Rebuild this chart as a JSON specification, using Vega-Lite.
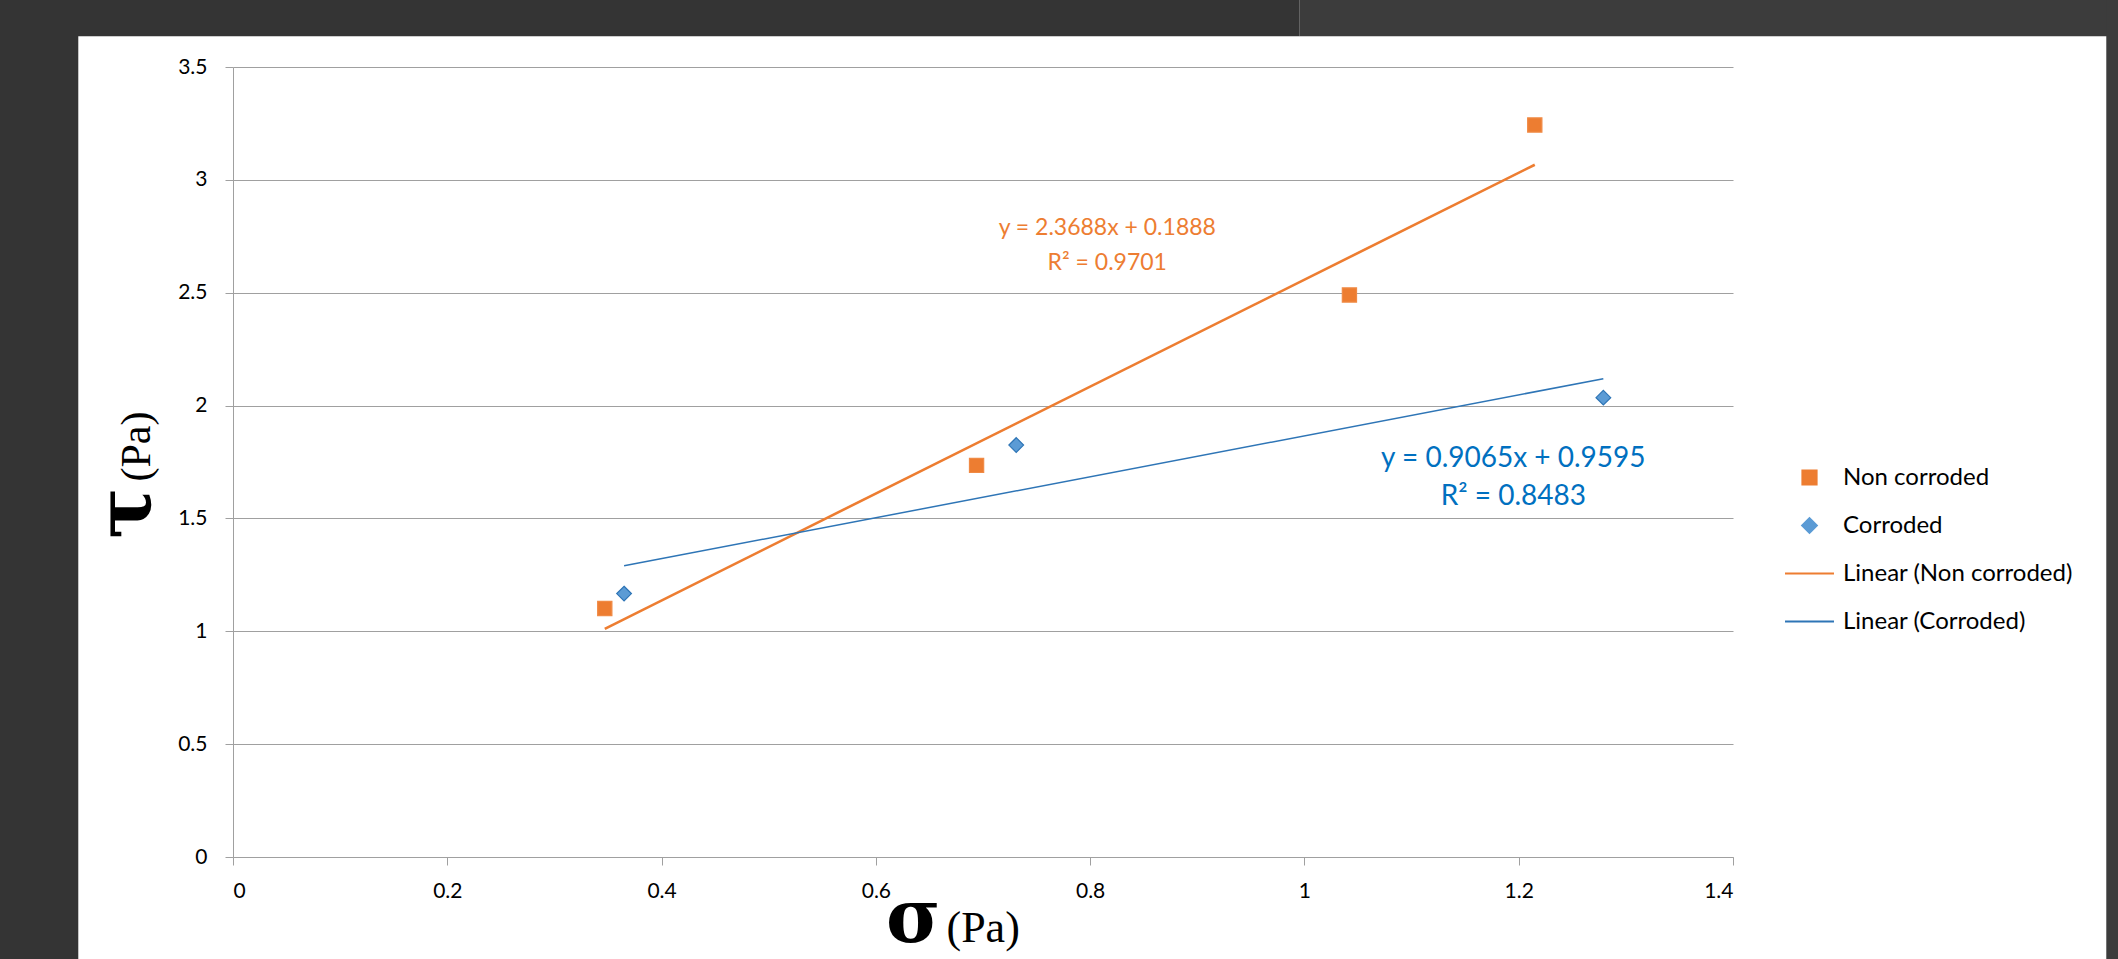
{
  "$schema": "https://vega.github.io/schema/vega-lite/v6.json",
  "width": 1500,
  "height": 790,
  "autosize": "none",
  "padding": {"left": 233, "top": 67, "right": 385, "bottom": 102},
  "background": "#ffffff",
  "config": {
    "view": {"stroke": null},
    "font": "Lato",
    "axis": {
      "labelFont": "Lato",
      "labelFontSize": 21,
      "labelColor": "#000000",
      "domainColor": "#a0a0a0",
      "tickColor": "#a0a0a0",
      "gridColor": "#a0a0a0",
      "gridWidth": 1,
      "domainWidth": 1,
      "tickWidth": 1,
      "tickSize": 8,
      "titleColor": "#000000"
    },
    "legend": {
      "orient": "none",
      "legendX": 1551,
      "legendY": 385,
      "padding": 0,
      "rowPadding": 10,
      "labelFont": "Lato",
      "labelFontSize": 24,
      "labelColor": "#000000",
      "labelLimit": 500,
      "labelOffset": 8,
      "symbolSize": 2400,
      "symbolStrokeWidth": 2,
      "symbolOpacity": 1
    }
  },
  "resolve": {"axis": {"x": "independent", "y": "independent"}},
  "layer": [
    {
      "layer": [
        {
          "data": {"values": [{}]},
          "mark": {"type": "rect", "color": "#343434"},
          "encoding": {
            "x": {
              "datum": -0.5, "type": "quantitative",
              "scale": {"domain": [0, 1.4], "nice": false, "zero": false},
              "axis": {
                "orient": "bottom", "title": "σ", "labels": false, "ticks": false, "domain": false, "grid": false,
                "titleFont": "DejaVu Serif", "titleFontWeight": "bold", "titleFontSize": 74,
                "titleAlign": "right", "titleAnchor": null, "titleX": 707, "titleY": 84, "titleBaseline": "alphabetic"
              }
            },
            "x2": {"datum": -0.1444},
            "y": {
              "datum": -0.6, "type": "quantitative",
              "scale": {"domain": [0, 3.5], "nice": false, "zero": false},
              "axis": {
                "orient": "left", "title": "τ", "labels": false, "ticks": false, "domain": false, "grid": false,
                "titleFont": "DejaVu Serif", "titleFontWeight": "bold", "titleFontSize": 76,
                "titleAngle": -90, "titleAlign": "right", "titleAnchor": null, "titleX": -84, "titleY": 420, "titleBaseline": "alphabetic"
              }
            },
            "y2": {"datum": 4.0}
          }
        },
        {
          "data": {"values": [{}]},
          "mark": {"type": "rect", "color": "#343434"},
          "encoding": {
            "x": {"datum": -0.5, "type": "quantitative"},
            "x2": {"datum": 0.9952},
            "y": {"datum": 3.636, "type": "quantitative"},
            "y2": {"datum": 4.0}
          }
        },
        {
          "data": {"values": [{}]},
          "mark": {"type": "rect", "color": "#3c3c3c"},
          "encoding": {
            "x": {"datum": 0.9952, "type": "quantitative"},
            "x2": {"datum": 2.0},
            "y": {"datum": 3.636, "type": "quantitative"},
            "y2": {"datum": 4.0}
          }
        },
        {
          "data": {"values": [{}]},
          "mark": {"type": "rect", "color": "#3c3c3c"},
          "encoding": {
            "x": {"datum": 1.7484, "type": "quantitative"},
            "x2": {"datum": 2.0},
            "y": {"datum": -0.6, "type": "quantitative"},
            "y2": {"datum": 4.0}
          }
        }
      ]
    },
    {
      "layer": [
        {
          "data": {"values": [
            {"series": "Linear (Non corroded)", "sigma": 0.347, "tau": 1.011},
            {"series": "Linear (Non corroded)", "sigma": 1.215, "tau": 3.067}
          ]},
          "mark": {"type": "line", "strokeWidth": 2.6},
          "encoding": {
            "x": {"field": "sigma", "type": "quantitative"},
            "y": {"field": "tau", "type": "quantitative"},
            "color": {"field": "series", "type": "nominal"}
          }
        },
        {
          "data": {"values": [
            {"series": "Linear (Corroded)", "sigma": 0.365, "tau": 1.290},
            {"series": "Linear (Corroded)", "sigma": 1.279, "tau": 2.119}
          ]},
          "mark": {"type": "line", "strokeWidth": 1.5},
          "encoding": {
            "x": {"field": "sigma", "type": "quantitative"},
            "y": {"field": "tau", "type": "quantitative"},
            "color": {"field": "series", "type": "nominal"}
          }
        },
        {
          "data": {"values": [
            {"series": "Non corroded", "sigma": 0.347, "tau": 1.101},
            {"series": "Non corroded", "sigma": 0.694, "tau": 1.735},
            {"series": "Non corroded", "sigma": 1.042, "tau": 2.49},
            {"series": "Non corroded", "sigma": 1.215, "tau": 3.243},
            {"series": "Corroded", "sigma": 0.365, "tau": 1.167},
            {"series": "Corroded", "sigma": 0.731, "tau": 1.825},
            {"series": "Corroded", "sigma": 1.279, "tau": 2.035}
          ]},
          "mark": {"type": "point", "filled": true, "opacity": 1, "size": 2400, "strokeWidth": 1.2},
          "encoding": {
            "x": {
              "field": "sigma", "type": "quantitative",
              "scale": {"domain": [0, 1.4], "nice": false, "zero": false},
              "axis": {
                "orient": "bottom",
                "title": "(Pa)",
                "values": [0, 0.2, 0.4, 0.6, 0.8, 1, 1.2, 1.4],
                "format": "~g",
                "grid": false,
                "labelPadding": 15,
                "titleFont": "Liberation Serif", "titleFontWeight": "normal", "titleFontSize": 44,
                "titleAlign": "left", "titleAnchor": null, "titleX": 713, "titleY": 84, "titleBaseline": "alphabetic"
              }
            },
            "y": {
              "field": "tau", "type": "quantitative",
              "scale": {"domain": [0, 3.5], "nice": false, "zero": false},
              "axis": {
                "orient": "left",
                "title": "(Pa)",
                "values": [0, 0.5, 1, 1.5, 2, 2.5, 3, 3.5],
                "format": "~g",
                "grid": true,
                "labelPadding": 18,
                "titleFont": "Liberation Serif", "titleFontWeight": "normal", "titleFontSize": 42,
                "titleAngle": -90, "titleAlign": "left", "titleAnchor": null, "titleX": -84, "titleY": 414, "titleBaseline": "alphabetic"
              }
            },
            "color": {
              "field": "series", "type": "nominal",
              "scale": {
                "domain": ["Non corroded", "Corroded", "Linear (Non corroded)", "Linear (Corroded)"],
                "range": ["#ED7D31", "#5B9BD5", "#ED7D31", "#2E75B6"]
              },
              "legend": {"title": null}
            },
            "shape": {
              "field": "series", "type": "nominal",
              "scale": {
                "domain": ["Non corroded", "Corroded", "Linear (Non corroded)", "Linear (Corroded)"],
                "range": ["M-0.29,-0.29H0.29V0.29H-0.29Z", "M0,-0.3L0.3,0L0,0.3L-0.3,0Z", "stroke", "stroke"]
              },
              "legend": {"title": null}
            },
            "stroke": {
              "field": "series", "type": "nominal",
              "scale": {"domain": ["Non corroded", "Corroded"], "range": ["#F08A45", "#2E75B6"]},
              "legend": null
            }
          }
        },
        {
          "data": {"values": [
            {"sigma": 0.816, "tau": 2.754, "label": "y = 2.3688x + 0.1888\nR² = 0.9701"}
          ]},
          "mark": {"type": "text", "align": "center", "baseline": "alphabetic", "font": "Lato", "fontSize": 23, "lineBreak": "\n", "lineHeight": 35, "color": "#ED7D31"},
          "encoding": {
            "x": {"field": "sigma", "type": "quantitative"},
            "y": {"field": "tau", "type": "quantitative"},
            "text": {"field": "label"}
          }
        },
        {
          "data": {"values": [
            {"sigma": 1.195, "tau": 1.7266, "label": "y = 0.9065x + 0.9595\nR² = 0.8483"}
          ]},
          "mark": {"type": "text", "align": "center", "baseline": "alphabetic", "font": "Lato", "fontSize": 28, "lineBreak": "\n", "lineHeight": 38, "color": "#0070C0"},
          "encoding": {
            "x": {"field": "sigma", "type": "quantitative"},
            "y": {"field": "tau", "type": "quantitative"},
            "text": {"field": "label"}
          }
        }
      ]
    }
  ]
}
